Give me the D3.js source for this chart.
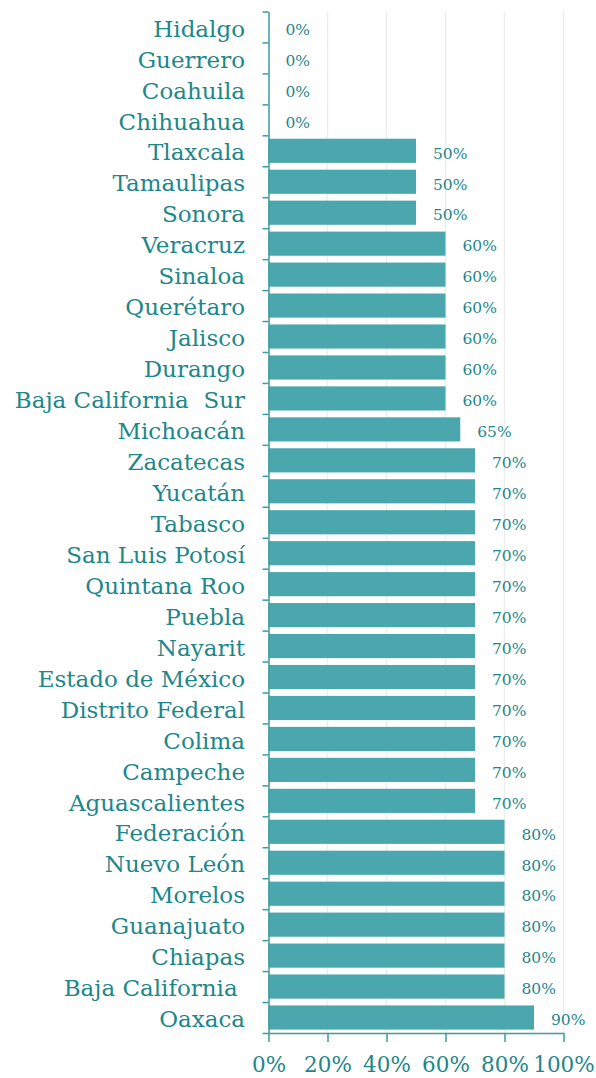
<!DOCTYPE html>
<html>
<head>
<meta charset="utf-8">
<script src="https://cdn.jsdelivr.net/npm/d3@7"></script>
<style>
  body { margin: 0; background: #fff; }
  svg text { font-family: "DejaVu Serif", serif; white-space: pre; }
</style>
</head>
<body>
<div id="chart"></div>
<script>
// states, top to bottom as in the picture
var states = [
  "Hidalgo", "Guerrero", "Coahuila", "Chihuahua", "Tlaxcala", "Tamaulipas",
  "Sonora", "Veracruz", "Sinaloa", "Querétaro", "Jalisco", "Durango",
  "Baja California  Sur", "Michoacán", "Zacatecas", "Yucatán", "Tabasco",
  "San Luis Potosí", "Quintana Roo", "Puebla", "Nayarit", "Estado de México",
  "Distrito Federal", "Colima", "Campeche", "Aguascalientes", "Federación",
  "Nuevo León", "Morelos", "Guanajuato", "Chiapas", "Baja California ", "Oaxaca"
];
var values = [
  0, 0, 0, 0, 50, 50,
  50, 60, 60, 60, 60, 60,
  60, 65, 70, 70, 70,
  70, 70, 70, 70, 70,
  70, 70, 70, 70, 80,
  80, 80, 80, 80, 80, 90
];
var xTicks = [0, 20, 40, 60, 80, 100];

var W = 596, H = 1078,
    x0 = 268.5, x1 = 563.5,
    y0 = 11.5, y1 = 1033;

var barColor = "#4aa7ad",
    textColor = "#1d878b",
    axisColor = "#3a9da2";

var svg = d3.select("#chart").append("svg")
  .attr("width", W).attr("height", H);

var x = d3.scaleLinear().domain([0, 100]).range([x0, x1]);
var y = d3.scaleBand().domain(states).range([y0, y1])
  .paddingInner(0.22).paddingOuter(0.11);
// boundaries between bands, for the left axis ticks
var yEdge = d3.scaleLinear().domain([0, states.length]).range([y0, y1]);

// grid
svg.append("g").selectAll("line")
  .data(xTicks.slice(1))
  .join("line")
  .attr("x1", d => x(d)).attr("x2", d => x(d))
  .attr("y1", y0).attr("y2", y1)
  .attr("stroke", "#eceeee").attr("stroke-width", 1.5);

// bars
svg.append("g").selectAll("rect")
  .data(values)
  .join("rect")
  .attr("x", x(0))
  .attr("y", (d, i) => y(states[i]))
  .attr("width", d => x(d) - x(0))
  .attr("height", y.bandwidth())
  .attr("fill", barColor);

// value labels
svg.append("g").selectAll("text")
  .data(values)
  .join("text")
  .attr("x", d => x(d) + 17)
  .attr("y", (d, i) => y(states[i]) + y.bandwidth() / 2)
  .attr("dy", "0.5em")
  .attr("font-size", 15.5)
  .attr("fill", textColor)
  .text(d => d + "%");

// category labels
svg.append("g").selectAll("text")
  .data(states)
  .join("text")
  .attr("x", 245)
  .attr("y", d => y(d) + y.bandwidth() / 2)
  .attr("dy", "0.42em")
  .attr("text-anchor", "end")
  .attr("font-size", 23)
  .attr("fill", textColor)
  .text(d => d);

// left axis with ticks between bands
var gy = svg.append("g")
  .attr("transform", "translate(" + x0 + ",0)")
  .call(d3.axisLeft(yEdge).tickValues(d3.range(states.length + 1))
    .tickFormat("").tickSize(6).tickSizeOuter(0));
gy.selectAll("path, line").attr("stroke", axisColor).attr("stroke-width", 1.5);

// bottom axis
var gx = svg.append("g")
  .attr("transform", "translate(0," + y1 + ")")
  .call(d3.axisBottom(x).tickValues(xTicks).tickFormat(d => d + "%")
    .tickSize(9).tickSizeOuter(0));
gx.selectAll("path, line").attr("stroke", axisColor).attr("stroke-width", 1.5);
gx.selectAll("text")
  .attr("font-size", 21.5)
  .attr("font-family", "DejaVu Serif, serif")
  .attr("fill", textColor)
  .attr("dy", null)
  .attr("y", 39);
</script>
</body>
</html>
